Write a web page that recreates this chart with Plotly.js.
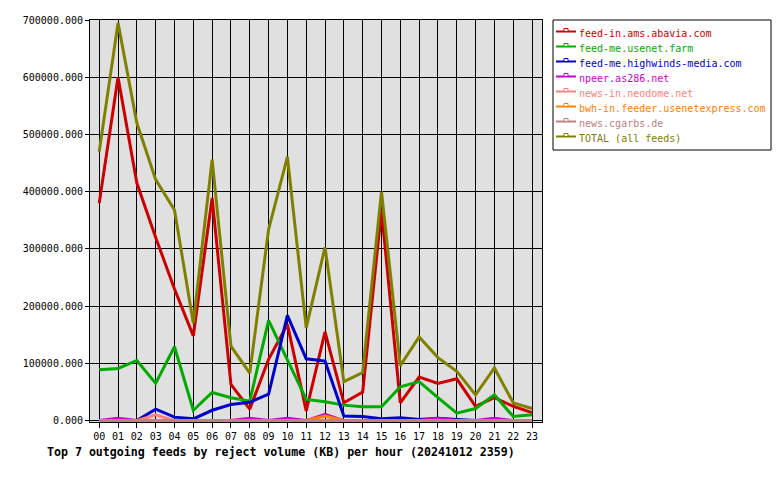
<!DOCTYPE html>
<html>
<head>
<meta charset="utf-8">
<script src="https://cdn.plot.ly/plotly-3.0.1.min.js"></script>
<style>html,body{margin:0;padding:0;background:#fff;}#chart{width:780px;height:480px;}</style>
</head>
<body>
<div id="chart"></div>
<script>
const hours = ['00','01','02','03','04','05','06','07','08','09','10','11','12','13','14','15','16','17','18','19','20','21','22','23'];

const feedNames = [
  'feed-in.ams.abavia.com',
  'feed-me.usenet.farm',
  'feed-me.highwinds-media.com',
  'npeer.as286.net',
  'news-in.neodome.net',
  'bwh-in.feeder.usenetexpress.com',
  'news.cgarbs.de',
  'TOTAL (all feeds)'
];

const abavia       = [380000,600000,415000,320000,230000,148000,389000,63000,20000,107000,168000,17000,155000,31000,50000,368000,31000,76000,65000,73000,25000,40000,25000,14000];
const usenetFarm   = [89000,91000,105000,65000,129000,18000,49000,40000,34000,175000,106000,37000,33000,27000,24000,24000,59000,68000,40000,13000,21000,45000,7000,10000];
const highwinds    = [0,0,0,20000,6000,3000,18000,28000,32000,46000,184000,108000,104000,8000,7000,3000,5000,2000,4000,2000,0,0,0,0];
const npeer        = [0,4000,0,0,0,0,0,0,4000,0,4000,0,11000,0,0,0,0,0,4000,0,0,4000,0,0];
const neodome      = [0,0,0,10000,0,0,0,0,0,0,0,0,0,0,0,0,0,0,0,0,0,0,0,0];
const usenetexpress= [0,0,0,0,0,0,0,0,0,0,0,0,8000,0,0,0,0,0,0,0,0,0,0,0];
const cgarbs       = [0,0,0,0,0,0,0,0,0,0,0,0,0,0,0,0,0,0,0,0,0,0,0,0];
const totalAll     = [470000,695000,520000,421000,368000,170000,456000,130000,83000,334000,461000,162000,303000,68000,84000,400000,96000,146000,110000,86000,45000,92000,31000,21000];

const seriesValues = [abavia, usenetFarm, highwinds, npeer, neodome, usenetexpress, cgarbs, totalAll];
const seriesColors = ['#cc0000','#00aa00','#0000cc','#cc00cc','#ff8080','#ff8000','#c08080','#808000'];

const xIdx = hours.map((h, i) => i);
const mono = 'DejaVu Sans Mono, Liberation Mono, monospace';

const traces = seriesValues.map((vals, k) => ({
  type: 'scatter',
  mode: 'lines',
  x: xIdx,
  y: vals,
  name: feedNames[k],
  line: {color: seriesColors[k], width: 3},
  showlegend: false,
  hoverinfo: 'skip'
}));

// Plot area in pixels
const L = 90, R = 542, T = 20, B = 422;
const px = v => (v - L) / (R - L);
const py = v => (B - v) / (B - T);

const shapes = [
  {type: 'rect', xref: 'paper', yref: 'paper', x0: px(553), x1: px(771), y0: py(20), y1: py(150),
   line: {color: '#000', width: 1}, fillcolor: '#fff', layer: 'below'}
];
const annotations = [];
feedNames.forEach((name, k) => {
  const cy = 33 + 15 * k;
  shapes.push({type: 'line', xref: 'paper', yref: 'paper', x0: px(556), x1: px(576), y0: py(cy - 1.5), y1: py(cy - 1.5),
    line: {color: seriesColors[k], width: 2}});
  shapes.push({type: 'rect', xref: 'paper', yref: 'paper', x0: px(564), x1: px(568), y0: py(cy - 1.5), y1: py(cy - 4.5),
    line: {color: seriesColors[k], width: 1}, fillcolor: '#fff'});
  annotations.push({xref: 'paper', yref: 'paper', x: px(577), y: py(cy), xanchor: 'left', yanchor: 'middle',
    text: name, showarrow: false, font: {family: mono, size: 10, color: seriesColors[k]}});
});

const layout = {
  width: 780, height: 480,
  margin: {l: L, r: 780 - R, t: T, b: 480 - B, pad: 0},
  paper_bgcolor: '#ffffff',
  plot_bgcolor: '#e0e0e0',
  showlegend: false,
  font: {family: mono, size: 10, color: '#000'},
  title: {
    text: '<b>Top 7 outgoing feeds by reject volume (KB) per hour (20241012 2359)</b>',
    font: {family: mono, size: 11.6, color: '#000'},
    xref: 'container', yref: 'container',
    x: 47 / 780, xanchor: 'left', y: (480 - 452) / 480, yanchor: 'middle'
  },
  xaxis: {
    range: [-0.49, 23.53],
    tickmode: 'array', tickvals: xIdx, ticktext: hours,
    showgrid: true, gridcolor: '#000', gridwidth: 1,
    showline: true, linecolor: '#000', linewidth: 1, mirror: true,
    ticks: 'outside', ticklen: 5, tickcolor: '#000', tickwidth: 1,
    zeroline: false, fixedrange: true,
    tickfont: {family: mono, size: 10, color: '#000'}
  },
  yaxis: {
    range: [-2500, 700000],
    tickmode: 'linear', tick0: 0, dtick: 100000,
    tickformat: '.3f',
    showgrid: true, gridcolor: '#000', gridwidth: 1,
    showline: true, linecolor: '#000', linewidth: 1, mirror: true,
    ticks: 'outside', ticklen: 4, tickcolor: '#000', tickwidth: 1,
    zeroline: false, fixedrange: true,
    tickfont: {family: mono, size: 10, color: '#000'}
  },
  shapes: shapes,
  annotations: annotations
};

Plotly.newPlot('chart', traces, layout, {displayModeBar: false, staticPlot: true});
</script>
</body>
</html>
